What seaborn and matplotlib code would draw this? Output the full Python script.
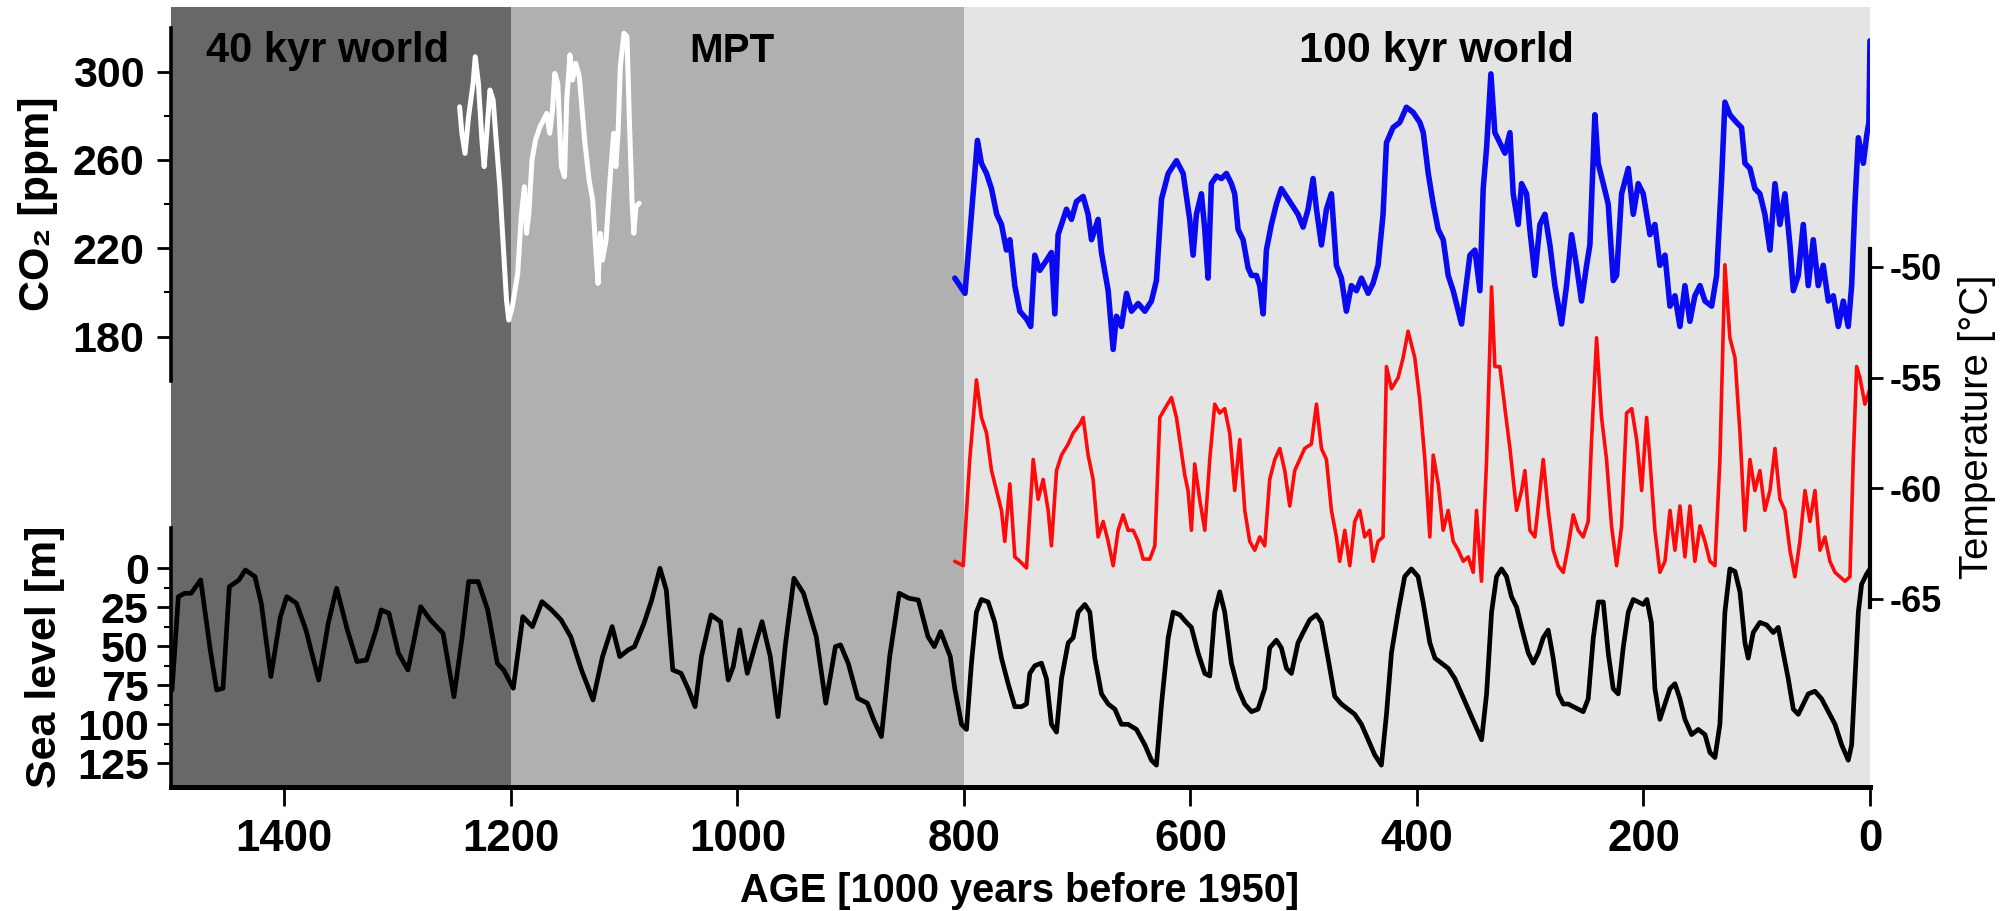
import matplotlib
matplotlib.use("Agg")
import matplotlib.pyplot as plt
import seaborn as sns

# ---------------- data ----------------
region_bounds = [(1500, 1200), (1200, 800), (800, 0)]
region_colors = ["#686868", "#b0b0b0", "#e4e4e4"]
region_labels = ["40 kyr world", "MPT", "100 kyr world"]

x_ticks = [1400, 1200, 1000, 800, 600, 400, 200, 0]
co2_ticks = [180, 220, 260, 300]
co2_minor = [200, 240, 280]
temp_ticks = [-65, -60, -55, -50]
sea_ticks = [0, 25, 50, 75, 100, 125]

# old ice (white) CO2 record
co2_old_age = [1245.2, 1243.2, 1240.4, 1237.3, 1233.3, 1231.4, 1228.6, 1225.5, 1223.5, 1220.8,
               1218.4, 1215.6, 1212.9, 1209.7, 1206.6, 1203.8, 1201.8, 1198.7, 1193.9, 1190.8,
               1188.0, 1186.1, 1184.1, 1181.3, 1178.2, 1174.2, 1171.1, 1168.3, 1165.6, 1163.2,
               1161.2, 1158.5, 1155.3, 1152.6, 1150.6, 1147.8, 1145.5, 1142.7, 1139.5, 1138.0,
               1134.8, 1130.9, 1127.7, 1125.0, 1123.0, 1121.0, 1119.1, 1115.9, 1112.0, 1109.2,
               1107.2, 1105.2, 1103.3, 1100.1, 1097.4, 1095.4, 1093.0, 1091.4, 1089.5, 1086.7]
co2_old_ppm = [284.1, 272.1, 263.0, 279.6, 294.7, 306.8, 294.7, 269.0, 257.0, 275.1,
               291.7, 287.2, 269.0, 247.9, 220.7, 196.6, 187.5, 193.5, 208.6, 234.3,
               247.9, 226.8, 235.8, 260.0, 269.0, 275.1, 278.1, 281.1, 272.1, 282.6,
               299.2, 294.7, 257.0, 252.4, 287.2, 307.6, 296.2, 303.8, 297.7, 288.7,
               269.0, 250.9, 241.9, 219.2, 204.1, 226.8, 214.7, 223.7, 253.9, 272.1,
               257.0, 273.6, 302.3, 317.4, 315.9, 279.6, 241.9, 226.8, 238.9, 240.4]

# EPICA CO2 (blue)
co2_age = [808, 799, 788, 784.5, 780, 775.6, 771, 766.8, 762.4, 759.4, 755, 750.6, 744.7, 741,
           737.4, 733, 727, 722.7, 719.7, 716.8, 709.4, 705, 700.6, 694.7, 690.3, 687.3, 681.5,
           678.5, 672.6, 668.2, 665.3, 660.9, 656.4, 652, 646.1, 640.2, 634.4, 630, 625.5, 619.6,
           612.3, 606.4, 600.6, 597.6, 594.7, 590.3, 587.3, 584.4, 581.5, 577, 572.6, 568.2,
           563.8, 560.9, 557.9, 553.5, 549.1, 546.1, 541.7, 538.8, 535.8, 532.9, 528.5, 524.1,
           519.7, 515.2, 510.8, 505, 500.5, 496.1, 491.7, 488.7, 484.3, 479.9, 475.5, 471.1,
           466.7, 462.3, 457.9, 453.4, 449, 443.1, 438.7, 434.3, 429.9, 426.9, 421.1, 415.2,
           409.3, 403.4, 397.4, 394.4, 390, 385.6, 381.2, 376.8, 372.4, 368, 363.5, 360.6,
           357.7, 353.2, 348.8, 344.4, 341.5, 338.5, 334.7, 331.2, 326.8, 322.3, 317.9, 315,
           310.6, 307.6, 303.2, 300.3, 295.9, 291.4, 287, 282.6, 278.2, 272.3, 267.9, 263.5,
           259.1, 254.7, 250.2, 247.3, 242.9, 240, 235.5, 231.1, 226.7, 223.7, 219.3, 213.4,
           209, 204.6, 200.2, 194.3, 189.9, 185.5, 181.0, 176.6, 172.2, 167.8, 163.4, 159,
           154.6, 150.1, 145.7, 139.8, 135.4, 131, 128.1, 123.7, 117.8, 113.4, 110.4, 106,
           101.6, 97.2, 92.8, 88.3, 83.9, 79.5, 75.1, 70.7, 67.7, 63.3, 58.9, 54.5, 50.1, 45.7,
           41.3, 36.8, 32.4, 28, 23.6, 19.2, 16.2, 13.3, 10.3, 5.9, 2.9, 1.0, 0.0]
co2_ppm = [206.5, 199.6, 268.9, 258.5, 253.9, 247, 235.4, 230.8, 219.2, 223.9, 203, 191.5, 188,
           184.6, 216.9, 210, 214.6, 218.1, 190.3, 226.2, 237.7, 233.1, 241.2, 243.5, 235.4,
           223.9, 233.1, 218.1, 200.8, 174.2, 189.2, 184.6, 199.6, 191.5, 195, 191.5, 196.1,
           205.4, 242.3, 253.9, 259.7, 253.9, 233.1, 216.9, 235.4, 244.7, 228.5, 206.5, 249.3,
           252.7, 251.6, 253.9, 249.3, 244.7, 228.5, 223.9, 211.2, 207.7, 207.7, 203.1, 190.3,
           219.2, 230.8, 240, 247, 243.5, 240, 235.4, 229.6, 237.7, 251.6, 237.7, 221.5, 237.7,
           244.7, 212.3, 206.5, 191.5, 203.1, 200.8, 206.5, 199.6, 204.2, 212.3, 235.4, 267.8,
           274.7, 277, 283.9, 281.6, 277, 272.4, 253.9, 240, 228.5, 223.9, 207.7, 200.8, 191.5,
           185.7, 198.5, 216.9, 219.2, 200.8, 247, 265.5, 299, 272.4, 267.8, 263.1, 272.4,
           244.7, 230.8, 249.3, 244.7, 228.5, 207.7, 230.8, 235.4, 221.5, 203.1, 185.7, 203.1,
           226.2, 212.3, 196.1, 212.3, 221.5, 280.5, 258.5, 249.3, 240, 205.4, 207.7, 244.7,
           256.2, 235.4, 249.3, 244.7, 226.2, 230.8, 212.3, 216.9, 193.8, 198.5, 184.6, 203.1,
           186.9, 198.5, 203.1, 196.1, 193.8, 207.7, 251.6, 286.2, 280.5, 277, 274.7, 258.5,
           256.2, 247, 244.7, 235.4, 219.2, 249.3, 230.8, 244.7, 221.5, 200.8, 207.7, 230.8,
           203.1, 223.9, 203.1, 212.3, 196.1, 198.5, 184.6, 196.1, 184.6, 203.1, 240, 270.1,
           258.5, 271.2, 277, 314]

# EPICA temperature (red)
temp_age = [808, 800.6, 794.8, 788.9, 784.5, 780, 775.6, 771.2, 766.8, 763.9, 759.4, 755, 750.6,
            744.7, 738.8, 734.4, 730, 725.6, 722.7, 718.2, 713.8, 707.9, 703.5, 697.6, 694.7,
            690.3, 685.9, 681.5, 677, 672.6, 668.2, 663.8, 659.4, 655, 650.5, 646.1, 641.7,
            635.8, 631.4, 627, 622.6, 616.7, 612.3, 605, 602.1, 599.1, 596.2, 591.8, 587.3,
            582.9, 578.5, 574.1, 569.7, 565.3, 560.9, 556.4, 552, 547.6, 543.2, 538.8, 534.4,
            530, 525.5, 521.1, 516.7, 512.3, 507.9, 503.5, 499.1, 493.2, 488.7, 484.3, 479.9,
            475.5, 471.1, 468.2, 463.7, 459.3, 454.9, 450.5, 446.1, 441.7, 438.7, 434.3, 429.9,
            426.9, 422.5, 416.6, 412.2, 407.8, 401.9, 397.5, 393, 388.6, 385.6, 381.2, 376.8,
            372.4, 368, 363.5, 359.1, 354.7, 350.3, 347.4, 343, 338.5, 334.1, 331.2, 326.8,
            322.3, 317.9, 315, 312, 307.6, 304.7, 300.3, 295.9, 291.4, 288.5, 284.1, 279.7,
            275.3, 270.8, 266.4, 262, 257.6, 253.2, 248.8, 245.8, 241.4, 237, 232.6, 228.2,
            223.7, 219.3, 214.9, 210.4, 206, 201.6, 197.2, 194.3, 189.9, 185.5, 181, 176.6,
            172.2, 167.8, 163.4, 159, 154.6, 150.1, 145.7, 141.3, 136.9, 132.5, 128.1, 123.7,
            119.2, 114.8, 110.4, 106, 101.6, 97.2, 92.8, 88.3, 83.9, 79.5, 75.1, 70.7, 66.3,
            61.9, 57.4, 53, 48.6, 44.2, 39.8, 35.4, 30.9, 26.5, 22.1, 17.7, 14.8, 11.8, 8.9,
            4.5, 0.0]
temp_c = [-63.3, -63.5, -58.7, -55.1, -56.8, -57.5, -59.2, -60.1, -61.0, -62.4, -59.8, -63.1,
          -63.3, -63.6, -58.7, -60.5, -59.6, -61.0, -62.6, -59.2, -58.5, -58.0, -57.5, -57.1,
          -56.8, -58.5, -59.6, -62.2, -61.5, -62.4, -63.5, -61.9, -61.2, -61.9, -61.9, -62.4,
          -63.2, -63.2, -62.6, -56.8, -56.4, -55.9, -56.8, -59.4, -60.1, -61.9, -58.9, -60.5,
          -61.9, -58.7, -56.2, -56.6, -56.4, -57.5, -60.1, -57.8, -61.0, -62.4, -62.8, -62.2,
          -62.6, -59.6, -58.7, -58.2, -59.2, -60.8, -59.2, -58.7, -58.2, -58.0, -56.2, -58.2,
          -58.7, -61.0, -62.2, -63.3, -61.9, -63.5, -61.5, -61.0, -62.2, -61.9, -63.3, -62.4,
          -62.2, -54.5, -55.5, -55.0, -54.1, -52.9, -54.1, -56.0, -58.7, -62.2, -58.5, -59.8,
          -61.9, -61.0, -62.4, -62.8, -63.3, -63.1, -63.8, -61.0, -64.2, -58.7, -50.9, -54.5,
          -54.5, -56.4, -58.2, -59.6, -61.0, -60.1, -59.2, -61.9, -62.2, -60.1, -58.7, -61.0,
          -62.8, -63.5, -63.8, -62.6, -61.2, -61.9, -62.2, -61.5, -57.8, -53.2, -56.8, -58.7,
          -61.7, -63.5, -61.7, -56.6, -56.4, -57.8, -60.1, -56.8, -58.7, -61.9, -63.8, -63.3,
          -61.0, -62.8, -60.8, -63.1, -60.8, -63.3, -61.7, -62.4, -63.3, -63.5, -58.7, -49.9,
          -53.2, -54.1, -57.5, -61.9, -58.7, -60.1, -59.2, -61.0, -60.1, -58.2, -60.5, -61.0,
          -62.8, -64.0, -62.4, -60.1, -61.5, -60.1, -62.8, -62.2, -63.3, -63.8, -64.0, -64.2,
          -64.0, -58.7, -54.5, -55.0, -56.2, -55.5]

# sea level (black)
sea_age = [1499.1, 1493.5, 1487.9, 1482.2, 1473.8, 1465.3, 1459.7, 1454.1, 1448.5, 1440.0,
           1434.4, 1425.9, 1420.3, 1411.8, 1403.4, 1397.8, 1389.3, 1380.9, 1369.6, 1361.2,
           1353.8, 1344.3, 1335.8, 1327.4, 1318.9, 1314.4, 1307.6, 1299.2, 1290.8, 1279.5,
           1271.0, 1259.8, 1250.2, 1242.9, 1237.2, 1228.8, 1220.4, 1211.9, 1206.3, 1197.8,
           1189.4, 1180.9, 1172.5, 1164.0, 1155.6, 1147.1, 1137.6, 1127.4, 1119.0, 1110.5,
           1103.8, 1096.5, 1090.8, 1082.4, 1075.6, 1068.3, 1062.7, 1057.0, 1049.7, 1043.0,
           1037.3, 1031.7, 1023.2, 1014.8, 1008.0, 1003.6, 997.9, 991.2, 983.8, 978.2, 970.9,
           964.1, 957.4, 950.0, 941.6, 930.3, 921.9, 913.4, 908.9, 902.1, 893.7, 885.2, 879.6,
           872.8, 865.5, 857.1, 848.6, 840.2, 831.7, 826.1, 820.5, 812.0,
           808, 802.1, 797.7, 793.3, 788.9, 784.5, 778.6, 772.7, 766.8, 760.9, 755, 749.1,
           744.7, 741.8, 737.4, 731.5, 727.1, 722.7, 718.2, 713.8, 707.9, 703.5, 699.1, 693.2,
           688.8, 684.4, 678.5, 672.6, 666.7, 660.9, 655, 647.6, 640.2, 634.4, 630, 625.5,
           619.6, 615.2, 609.3, 603.5, 599.1, 593.2, 587.3, 582.9, 578.5, 574.1, 569.7, 563.8,
           557.9, 552, 546.1, 540.3, 534.4, 530, 524.1, 519.7, 515.2, 510.8, 505, 500.5, 494.6,
           488.7, 484.3, 478.5, 472.6, 466.7, 460.8, 454.9, 449, 443.1, 437.2, 431.4, 426.9,
           422.5, 416.6, 410.8, 404.9, 399, 394.6, 388.6, 384.1, 378.3, 372.4, 366.5, 360.6,
           354.7, 348.8, 342.9, 338.5, 334.1, 329.7, 325.3, 320.9, 316.5, 312, 307.6, 301.7,
           297.3, 292.9, 288.5, 284.1, 279.7, 275.3, 270.8, 266.4, 262, 257.6, 253.2, 248.8,
           244.3, 239.9, 235.5, 231.1, 226.7, 222.3, 217.9, 213.4, 209, 204.6, 200.2, 197,
           193, 189.9, 185.5, 181, 176.6, 172.2, 167.8, 163.4, 157.5, 151.6, 145.7, 141.3,
           136.9, 132.5, 128.1, 123.7, 119.2, 114.8, 110.4, 107.5, 103.1, 97.2, 91.3, 85.4, 81,
           76.6, 72.2, 67.7, 63.3, 58.9, 54.5, 48.6, 42.7, 36.8, 30.9, 25, 19.2, 16.2, 13.3,
           10.3, 7.4, 2.9, 0]
sea_m = [78.0, 18.2, 16.0, 16.0, 7.5, 52.4, 78.0, 76.9, 11.8, 7.5, 1.1, 5.3, 22.4, 69.4, 31.0,
         18.2, 22.4, 39.5, 71.6, 35.3, 12.8, 39.5, 59.8, 58.8, 39.5, 26.7, 28.8, 54.5, 65.2, 24.6,
         33.1, 41.7, 82.3, 43.8, 8.5, 8.5, 26.7, 60.9, 65.2, 76.9, 31.0, 37.4, 21.4, 26.7, 33.1,
         43.8, 65.2, 84.4, 56.6, 37.4, 56.6, 52.4, 50.2, 35.3, 20.3, 0.0, 13.9, 65.2, 67.3, 78.0,
         88.7, 56.6, 29.9, 34.2, 71.6, 63.0, 39.5, 67.3, 48.1, 34.2, 56.6, 95.1, 48.1, 6.4, 16.0,
         43.8, 86.5, 50.2, 49.1, 60.9, 83.3, 86.5, 97.2, 107.9, 56.6, 16.0, 19.2, 20.3, 43.8,
         50.2, 40.6, 56.6,
         77.2, 100.0, 103.3, 60.8, 28.1, 20.0, 21.6, 34.7, 57.6, 74.0, 88.7, 88.7, 87.0, 67.4,
         62.5, 60.8, 70.7, 100.0, 105.0, 70.7, 47.8, 44.5, 28.1, 23.2, 28.1, 57.6, 80.5, 87.0,
         90.3, 100.0, 100.0, 103.3, 113.2, 123.0, 126.2, 87.0, 44.5, 28.1, 29.8, 34.7, 37.9,
         54.3, 67.4, 69.0, 28.1, 15.1, 28.1, 60.8, 77.2, 87.0, 91.9, 90.3, 77.2, 51.0, 46.1,
         51.0, 64.1, 67.4, 47.8, 41.2, 33.0, 29.8, 34.7, 57.6, 82.1, 87.0, 90.3, 93.6, 100.0,
         109.9, 119.7, 126.2, 93.6, 54.3, 28.1, 5.3, 0.4, 5.3, 21.6, 47.8, 57.6, 60.8, 64.1,
         70.7, 80.5, 90.3, 100.0, 109.9, 80.5, 28.1, 5.3, 0.4, 5.3, 18.3, 24.9, 37.9, 54.3,
         60.8, 54.3, 44.5, 39.6, 57.6, 80.5, 87.0, 87.0, 88.7, 90.3, 91.9, 83.7, 44.5, 21.6,
         21.6, 54.3, 77.2, 80.5, 51.0, 28.1, 20.0, 21.6, 23.2, 20.0, 35.0, 77.2, 96.8, 87.0,
         77.2, 74.0, 83.7, 96.8, 106.6, 103.3, 106.6, 118.1, 121.3, 100.0, 28.1, 0.4, 2.0,
         15.1, 47.8, 57.6, 41.2, 34.7, 36.3, 41.2, 37.9, 54.3, 70.7, 90.3, 93.6, 87.0, 80.5,
         78.8, 83.7, 91.9, 100.0, 113.2, 123.0, 113.2, 70.7, 28.1, 10.2, 3.6, 0.4]

# ---------------- style ----------------
sns.set_style("white")
plt.rcParams['font.family'] = ['Liberation Sans', 'DejaVu Sans']
plt.rcParams['axes.unicode_minus'] = False
for key in ["text.color", "axes.labelcolor", "xtick.color", "ytick.color", "axes.edgecolor"]:
    plt.rcParams[key] = "black"

W, H = 2011, 911
L, R, T, B = 171, 1870, 7, 787
pos = [L / W, 1 - B / H, (R - L) / W, (B - T) / H]

fig = plt.figure(figsize=(W / 100, H / 100), dpi=100, facecolor="white")
ax = fig.add_axes(pos)
ax.set_ylim(0, 1)
for (a0, a1), col in zip(region_bounds, region_colors):
    ax.axvspan(a0, a1, color=col, lw=0, zorder=0)

label_pos = [(1469, "left"), (1005, "center"), (383, "center")]
label_size = [30, 29, 31]
for txt, (xa, ha), fs in zip(region_labels, label_pos, label_size):
    ax.text(xa, 0.93, txt, transform=ax.get_xaxis_transform(), ha=ha, va="baseline",
            fontsize=fs, fontweight="bold", color="black", zorder=5)

for s in ["left", "right", "top"]:
    ax.spines[s].set_visible(False)
ax.spines["bottom"].set_linewidth(3.6)
ax.spines["bottom"].set_color("black")
ax.set_yticks([])
ax.set_xticks(x_ticks)
ax.set_xticklabels([str(v) for v in x_ticks], fontweight="bold")
ax.tick_params(axis="x", direction="out", length=14, width=2, labelsize=31.5, pad=9,
               color="black", labelcolor="black", bottom=True)


def overlay():
    a = fig.add_axes(pos, sharex=ax)
    a.patch.set_visible(False)
    for s in ["left", "right", "top", "bottom"]:
        a.spines[s].set_visible(False)
    a.tick_params(axis="x", which="both", bottom=False, labelbottom=False, top=False)
    a.grid(False)
    return a


line_kw = dict(sort=False, estimator=None, solid_joinstyle="round", solid_capstyle="round")

# sea level axis (left, bottom)
ax_sea = overlay()
sns.lineplot(x=sea_age, y=sea_m, ax=ax_sea, color="black", lw=3.4, **line_kw)
ax_sea.set_ylim(140.2, -359.8)
ax_sea.spines["left"].set_visible(True)
ax_sea.spines["left"].set_bounds(-25.8, 140.2)
ax_sea.spines["left"].set_linewidth(2.6)
ax_sea.spines["left"].set_color("black")
ax_sea.set_yticks(sea_ticks)
ax_sea.set_yticklabels([str(v) for v in sea_ticks], fontweight="bold")
ax_sea.set_yticks([12.5, 37.5, 62.5, 87.5, 112.5], minor=True)
ax_sea.tick_params(axis="y", which="major", direction="out", length=10, width=2,
                   labelsize=31, pad=6, left=True, color="black", labelcolor="black")
ax_sea.tick_params(axis="y", which="minor", direction="out", length=5, width=1.5, left=True,
                   color="black")

# CO2 axis (left, top)
ax_co2 = overlay()
sns.lineplot(x=co2_old_age, y=co2_old_ppm, ax=ax_co2, color="white", lw=3.6, **line_kw)
sns.lineplot(x=co2_age, y=co2_ppm, ax=ax_co2, color="#0a0af0", lw=4.0, **line_kw)
ax_co2.set_ylim(-24.0, 329.3)
ax_co2.spines["left"].set_visible(True)
ax_co2.spines["left"].set_bounds(160, 320)
ax_co2.spines["left"].set_linewidth(2.6)
ax_co2.spines["left"].set_color("black")
ax_co2.set_yticks(co2_ticks)
ax_co2.set_yticklabels([str(v) for v in co2_ticks], fontweight="bold")
ax_co2.set_yticks(co2_minor, minor=True)
ax_co2.tick_params(axis="y", which="major", direction="out", length=10, width=2,
                   labelsize=31, pad=9, left=True, color="black", labelcolor="black")
ax_co2.tick_params(axis="y", which="minor", direction="out", length=5, width=1.5, left=True,
                   color="black")

# temperature axis (right)
ax_t = overlay()
sns.lineplot(x=temp_age, y=temp_c, ax=ax_t, color="#ff0a0a", lw=2.6, **line_kw)
ax_t.set_ylim(-73.5, -38.25)
ax_t.yaxis.tick_right()
ax_t.spines["right"].set_visible(True)
ax_t.spines["right"].set_bounds(-65.35, -49.17)
ax_t.spines["right"].set_linewidth(3.0)
ax_t.spines["right"].set_color("black")
ax_t.set_yticks(temp_ticks)
ax_t.set_yticklabels([str(v) for v in temp_ticks], fontweight="bold")
ax_t.tick_params(axis="y", which="major", direction="out", length=9, width=2,
                 labelsize=26, pad=5, right=True, left=False, color="black",
                 labelcolor="black")

for a in [ax, ax_sea, ax_co2, ax_t]:
    a.set_xlabel("")
    a.set_ylabel("")
ax.set_xlim(1500, 0)

# axis titles
fig.text(38 / W, 1 - 204 / H, "CO\u2082 [ppm]", rotation=90, ha="center", va="center",
         fontsize=31, fontweight="bold", color="black")
fig.text(45 / W, 1 - 657 / H, "Sea level [m]", rotation=90, ha="center", va="center",
         fontsize=31, fontweight="bold", color="black")
fig.text(1977 / W, 1 - 427 / H, "Temperature [°C]", rotation=90, ha="center", va="center",
         fontsize=29, fontweight="normal", color="black")
fig.text(1020 / W, 1 - 902 / H, "AGE [1000 years before 1950]", ha="center", va="baseline",
         fontsize=28.6, fontweight="bold", color="black")

fig.savefig("out.png", dpi=100, facecolor="white")
